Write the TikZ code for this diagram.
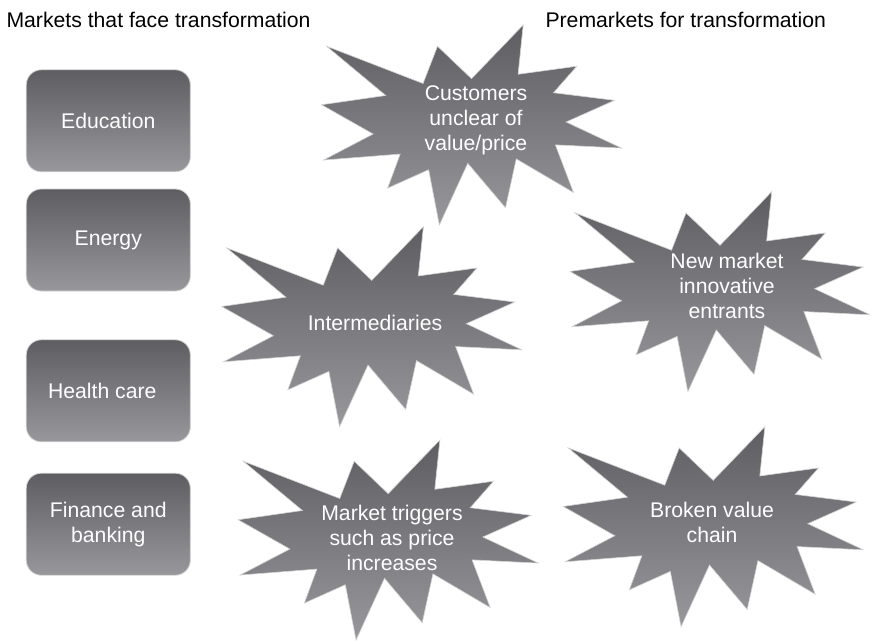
\documentclass[tikz,border=0pt]{standalone}
\usepackage{fontspec}
\setmainfont{Liberation Sans}
\usepackage{xcolor}
\usepackage{tikz}

\definecolor{darktop}{HTML}{5E5E62}
\definecolor{lightlow}{HTML}{98989C}

\tikzset{
    market/.style={rectangle, rounded corners=15pt, draw=gray!35, line width=0.8pt,
        top color=darktop, bottom color=lightlow, text=white, align=center,
        minimum width=164pt, minimum height=102pt,
        font=\fontsize{21.2}{25}\selectfont},
    starfill/.style={draw=gray!35, line width=0.6pt, top color=darktop, bottom color=lightlow},
    startext/.style={text=white, align=center, font=\fontsize{21.2}{25}\selectfont},
    heading/.style={anchor=west, text=black, font=\fontsize{21.2}{25}\selectfont}
}

% explosion outline, 300 x 200, lower left corner at (#1,#2)
\newcommand{\burst}[2]{%
    \begin{scope}[shift={(#1,#2)}, xscale=300, yscale=200]
        \path[starfill] (0.5000,0.7315) -- (0.6723,1.0000) -- (0.6553,0.7535) -- (0.8509,0.7937)
            -- (0.7732,0.6613) -- (0.9767,0.6233) -- (0.8151,0.5150) -- (1.0000,0.3847)
            -- (0.7795,0.4008) -- (0.8400,0.1623) -- (0.6491,0.3307) -- (0.6133,0.0862)
            -- (0.4876,0.3086) -- (0.3928,0.0000) -- (0.3572,0.2765) -- (0.2205,0.1844)
            -- (0.2624,0.3548) -- (0.0063,0.3247) -- (0.1723,0.4549) -- (0.0000,0.6012)
            -- (0.2142,0.6474) -- (0.0171,0.8937) -- (0.3385,0.7074) -- (0.3867,0.8937) -- cycle;
    \end{scope}}

\begin{document}
\begin{tikzpicture}[x=1pt, y=1pt]
    \useasboundingbox (0,0) rectangle (870,-640);

    \node[heading] (lefthead) at (3,-20) {Markets that face transformation};
    \node[heading] (righthead) at (542,-20) {Premarkets for transformation};

    \foreach \y/\name/\txt in {-120.8/edu/Education, -240/energy/Energy,
        -390.8/health/{Health care\hspace{12pt}}, -524.2/finance/{Finance and\\banking}}
    \node[market] (\name) at (108.3,\y) {\txt};

    \burst{321.5}{-225}
    \burst{221.7}{-426.7}
    \burst{570}{-391.7}
    \burst{238.2}{-640}
    \burst{563.2}{-626.7}

    \node[startext] (cust) at (476,-120) {Customers\\unclear of\\value/price};
    \node[startext] (inter) at (375,-323) {Intermediaries};
    \node[startext] (entrants) at (727,-286) {New market\\innovative\\entrants};
    \node[startext] (triggers) at (392,-538) {Market triggers\\such as price\\increases};
    \node[startext] (broken) at (712,-522) {Broken value\\chain};
\end{tikzpicture}
\end{document}
